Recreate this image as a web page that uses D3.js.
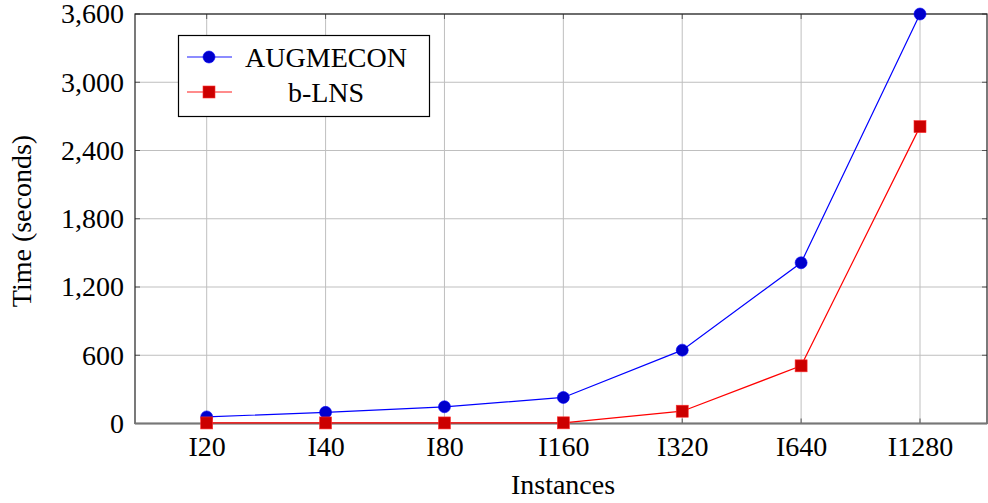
<!DOCTYPE html>
<html><head><meta charset="utf-8">
<script src="https://cdn.jsdelivr.net/npm/d3@7"></script>
<style>body{margin:0;background:#fff}svg{display:block}text{font-family:"Liberation Serif","Times New Roman",serif;fill:#000}</style>
</head><body><svg id="c" width="988" height="503"></svg>
<script>
const categories = ["I20","I40","I80","I160","I320","I640","I1280"];
const augmecon = [58, 98, 147, 229, 645, 1413, 3600];
const blns = [5, 5, 5, 6, 108, 507, 2610];
const yTicks = [0, 600, 1200, 1800, 2400, 3000, 3600];
const seriesNames = ["AUGMECON", "b-LNS"];

const svg = d3.select("#c");
const L = 135, R = 987, T = 14, B = 423.5;
const x = d3.scalePoint().domain(categories).range([206.7, 920]).padding(0);
const y = d3.scaleLinear().domain([0, 3600]).range([B, T]);
const FS = 28;

// grid
const g = svg.append("g");
g.selectAll(".vg").data(categories).enter().append("line")
  .attr("x1", d => x(d)).attr("x2", d => x(d)).attr("y1", T).attr("y2", B)
  .attr("stroke", "#bfbfbf").attr("stroke-width", 1);
g.selectAll(".hg").data(yTicks).enter().append("line")
  .attr("x1", L).attr("x2", R).attr("y1", d => y(d)).attr("y2", d => y(d))
  .attr("stroke", "#bfbfbf").attr("stroke-width", 1);

// ticks (inside, both sides)
const tk = 5;
categories.forEach(c => {
  svg.append("line").attr("x1", x(c)).attr("x2", x(c)).attr("y1", T).attr("y2", T + tk).attr("stroke", "#555");
  svg.append("line").attr("x1", x(c)).attr("x2", x(c)).attr("y1", B).attr("y2", B - tk).attr("stroke", "#555");
});
yTicks.forEach(v => {
  svg.append("line").attr("x1", L).attr("x2", L + tk).attr("y1", y(v)).attr("y2", y(v)).attr("stroke", "#555");
  svg.append("line").attr("x1", R).attr("x2", R - tk).attr("y1", y(v)).attr("y2", y(v)).attr("stroke", "#555");
});

// frame
svg.append("rect").attr("x", L).attr("y", T).attr("width", R - L).attr("height", B - T)
  .attr("fill", "none").attr("stroke", "#222").attr("stroke-width", 1.2);
svg.append("line").attr("x1", L).attr("x2", R).attr("y1", B).attr("y2", B)
  .attr("stroke", "#777").attr("stroke-width", 2.2);

const xAx = svg.append("g").attr("transform", `translate(0,${B})`)
  .call(d3.axisBottom(x).tickSize(0).tickPadding(9));
xAx.select(".domain").remove();
xAx.selectAll("text").attr("font-size", FS).attr("font-family", "Liberation Serif").attr("fill", "#000").attr("dy", "0.85em");

const yAx = svg.append("g").attr("transform", `translate(${L},0)`)
  .call(d3.axisLeft(y).tickValues(yTicks).tickSize(0).tickPadding(11).tickFormat(d3.format(",")));
yAx.select(".domain").remove();
yAx.selectAll("text").attr("font-size", FS).attr("font-family", "Liberation Serif").attr("fill", "#000");

svg.append("text").attr("x", 563).attr("y", 494)
  .attr("text-anchor", "middle").attr("font-size", FS).text("Instances");
svg.append("text").attr("transform", "translate(31,221) rotate(-90)")
  .attr("text-anchor", "middle").attr("font-size", FS).text("Time (seconds)");

// series
const line = d3.line().x((d, i) => x(categories[i])).y(d => y(d));
svg.append("path").datum(augmecon).attr("d", line).attr("fill", "none").attr("stroke", "#0000ff").attr("stroke-width", 1.2);
svg.append("path").datum(blns).attr("d", line).attr("fill", "none").attr("stroke", "#ff0000").attr("stroke-width", 1.2);

svg.selectAll(".pa").data(augmecon).enter().append("circle")
  .attr("cx", (d, i) => x(categories[i])).attr("cy", d => y(d)).attr("r", 6)
  .attr("fill", "#0000cc").attr("stroke", "#0000ff").attr("stroke-width", 0.6);
svg.selectAll(".pb").data(blns).enter().append("rect")
  .attr("x", (d, i) => x(categories[i]) - 6).attr("y", d => y(d) - 6).attr("width", 12).attr("height", 12)
  .attr("fill", "#cc0000").attr("stroke", "#ff3030").attr("stroke-width", 0.6);

// legend
const lg = svg.append("g");
lg.append("rect").attr("x", 178.5).attr("y", 35.5).attr("width", 251).attr("height", 81)
  .attr("fill", "#fff").attr("stroke", "#000").attr("stroke-width", 1.2);
const rows = [57, 92];
rows.forEach((ry, i) => {
  const col = i === 0 ? "#6666ff" : "#ff6666";
  lg.append("line").attr("x1", 187).attr("x2", 232).attr("y1", ry).attr("y2", ry).attr("stroke", col).attr("stroke-width", 1.4);
  if (i === 0) lg.append("circle").attr("cx", 209).attr("cy", ry).attr("r", 6).attr("fill", "#0000cc").attr("stroke", "#0000ff").attr("stroke-width", 0.6);
  else lg.append("rect").attr("x", 203).attr("y", ry - 6).attr("width", 12).attr("height", 12).attr("fill", "#cc0000").attr("stroke", "#ff3030").attr("stroke-width", 0.6);
  lg.append("text").attr("x", 326).attr("y", ry).attr("dy", "0.35em").attr("text-anchor", "middle")
    .attr("font-size", FS).text(seriesNames[i]);
});
</script></body></html>
